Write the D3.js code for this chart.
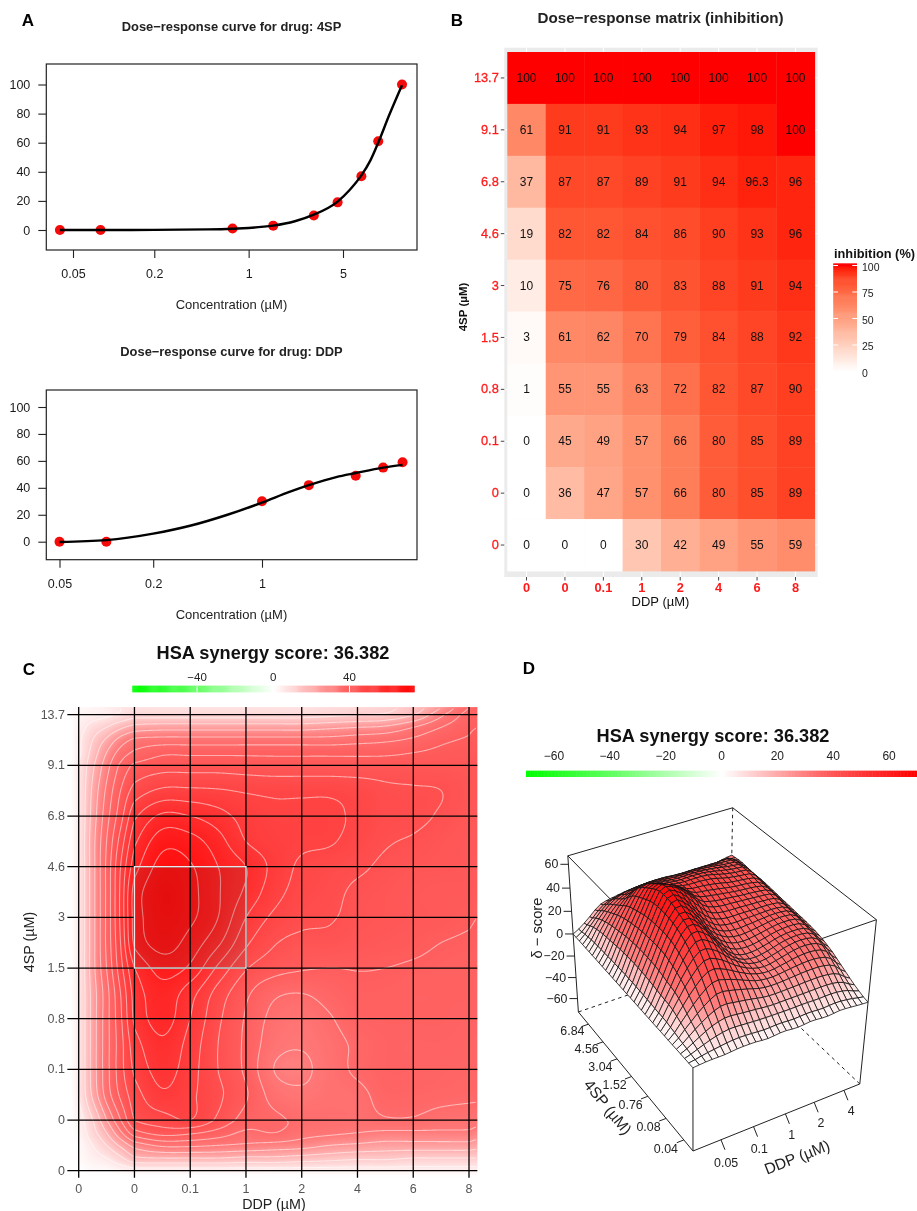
<!DOCTYPE html>
<html><head><meta charset="utf-8">
<script src="https://cdn.jsdelivr.net/npm/d3@7"></script>
<style>
html,body{margin:0;padding:0;background:#fff}
svg{display:block;font-family:"Liberation Sans",Arial,sans-serif;filter:blur(0.35px)}
</style></head><body><div id="chart"></div>
<script>
// ---------- Panel A data ----------
const conc4SP=[0.04,0.08,0.76,1.52,3.04,4.56,6.84,9.12,13.68];
const resp4SP=[0,0,1,3,10,19,37,61,100];
const curveConc4SP=[0.04,0.08,0.2,0.5,0.76,1.52,2.2,3.04,4.56,5.6,6.84,8,9.12,11,13.68];
const curveResp4SP=[0,0,0.1,0.4,0.9,3,6,10.5,19.5,27.5,37.5,48,60,79,99.5];
const concDDP=[0.05,0.1,1,2,4,6,8];
const respDDP=[0,0,30,42,49,55,59];
const curveConcDDP=[0.05,0.1,0.2,0.35,0.6,1,1.5,2,3,4,6,8];
const curveRespDDP=[-0.2,1.2,6,12,20,29,37,42,48,51,55,57];
// ---------- Panel B data ----------
const ddpLabels=["0","0","0.1","1","2","4","6","8"];
const spLabels=["13.7","9.1","6.8","4.6","3","1.5","0.8","0.1","0","0"];
const inhibition=[
[100,100,100,100,100,100,100,100],
[61,91,91,93,94,97,98,100],
[37,87,87,89,91,94,96.3,96],
[19,82,82,84,86,90,93,96],
[10,75,76,80,83,88,91,94],
[3,61,62,70,79,84,88,92],
[1,55,55,63,72,82,87,90],
[0,45,49,57,66,80,85,89],
[0,36,47,57,66,80,85,89],
[0,0,0,30,42,49,55,59]];
const inhibitionTicks=[0,25,50,75,100];
// ---------- Panel C data ----------
const synColNodes=[-0.15,0,0.25,0.5,0.75,1,1.5,2,2.5,3,3.5,4,4.5,5,5.5,6,6.5,7,7.15];
const synRowNodes=[-0.15,0,0.25,0.5,0.75,1,1.5,2,2.5,3,3.5,4,4.5,5,5.5,6,6.5,7,7.5,8,8.25,8.5,8.75,9,9.12];
const synergy=[
[0,1,2,3,5,6,6,6,6,6,6,6,7,8,9,12,20,30,33],
[0,2,3,4,6,8,8,8,8,8,8,8,9,10,11,15,24,32,34],
[0,3,7,10,14,17,18,18,18,18,18,18,19,20,21,25,30,34,35],
[0,4,10,16,22,26,27,27,27,27,27,27,27,28,29,31,34,35.5,36],
[0,4,12,20,27,31,34,34,34,34,34,34,34,34,34,35,36,36.5,37],
[0,5,14,23,31,36,38,38,38,37.5,37,37,37,37,37.5,37.5,37.5,37.5,37.5],
[0,5,16,26,35,42,46,46,45.5,44.5,44,44,44,43,41,40.5,40,38,37.5],
[0,5,17,28,38,49,56,55,52,48,46,46,46,44,41.5,41,39.5,37.5,37],
[0,5,18,30,42,54,63,62,57,50,47,46,45.5,43,40.5,39.5,38,37,37],
[0,5,18,31,45,58,67,65.5,60,55,48.5,44,42.5,41,39,38,37.5,37,36.5],
[0,5,18,31,46,62,69,66.5,60.5,54,47,43,41.5,39,38,37,36.5,36.5,36],
[0,5,18,31,46,62,68.5,66,60,50,44,41.5,40.5,38.5,37.8,37,36.5,35.5,35],
[0,5,18,31,45,61,67,63,56,46,40.5,38.5,38.5,37.5,36.7,36,35,34.5,34.5],
[0,5,18,30,43,55,62,59,49,40.5,37,35.5,35,35.2,35,34.5,34,33.5,33.5],
[0,5,17,28,40,52,58,52,43,36,31,30,32,34,34,33.5,33.5,33.5,33],
[0,5,17,28,39,51,57,50,41,34.5,28.5,27,29.5,33,33.5,33.5,33.5,33,33],
[0,5,17,28,38,48,54,48,40,34,27,25.5,28,31,33,33,33,32.5,32],
[0,5,17,28,38,46,52,47,40,34,25,24,27.5,31,33,33,32.5,32,32],
[0,5,16,27,36,43,49,46,41,35.5,28,26,27.5,28.5,32,32,31.5,31,31],
[0,3,10,20,30,40,43,45,39,33,31,29,28.5,28,29.5,29.5,28,27.5,27],
[0,2,8,15,24,33,37,36,33,29,30,27,26,25,24,24,24,24,23],
[0,1,5,10,16,22,26,26,25,24,23,22,20,19,18,18,18,18,17],
[0,1,3,5,9,14,15,15,15,14,14,13,12,11,11,10,10,10,10],
[0,0,1,1,2,3,3,3,3,3,3,3,3,3,3,3,3,3,3],
[0,0,0,0,0,0,0,0,0,0,0,0,0,0,0,0,0,0,0]];
const contourLevels=[5,10,15,20,25,30,35,40,45,50,55,60,65];
const synLegendTicks=[-40,0,40];
// ---------- Panel D data (rows run from the back edge to the front edge) ----------
const surface=[
[0,8,18,21,23,24,23,22,21,20,21,24,26],
[0,14,26,32,34,35,35,34,34,34,34,34,27],
[0,18,33,41,43,43,42,42,42,41,39,37,26],
[0,20,40,54,52,48,46,46,45,42,40,38,26],
[0,22,44,62,60,54,46,44,42,40,39,36,25],
[0,23,47,68,66,56,44,40,39,38,37,35,24],
[0,23,48,68,62,48,38,35,35,35,35,33,23],
[0,22,48,64,56,42,33,30,31,33,34,32,22],
[0,20,44,58,52,38,28,26,28,31,32,30,20],
[0,18,36,47,43,34,27,24,26,29,30,27,16],
[0,12,24,32,30,26,22,21,22,23,23,20,10],
[0,6,12,15,14,13,12,12,12,12,12,10,4],
[0,1,1,2,2,1,2,1,2,1,2,1,0]];
const zTicks=[-60,-40,-20,0,20,40,60];
const surfDDPTicks=["0.05","0.1","1","2","4"];
const surfDDPFrac=[0.16,0.35,0.54,0.715,0.90];
const surfSPTicks=["0.04","0.08","0.76","1.52","3.04","4.56","6.84"];
const surfSPFrac=[0.07,0.21,0.36,0.5,0.63,0.76,0.9];
const surfLegendTicks=[-60,-40,-20,0,20,40,60];

const W=917,H=1211,INK="#1a1a1a";
const svg=d3.select("#chart").append("svg").attr("width",W).attr("height",H);
const txt=(g,t,x,y,o={})=>g.append("text").text(t).attr("x",x).attr("y",y)
  .attr("text-anchor",o.a||"middle").attr("font-size",o.s||12).attr("font-weight",o.w||"normal")
  .attr("fill",o.c||INK).attr("dominant-baseline","central")
  .attr("transform",o.r!=null?`rotate(${o.r} ${x} ${y})`:null);
[["A",28,20],["B",457,20],["C",29,669],["D",529,668]].forEach(d=>txt(svg,d[0],d[1],d[2],{s:17,w:"bold",c:"#000"}));

// ---------- Panel A ----------
function dosePlot(o){
  const g=svg.append("g");
  const x=d3.scaleLog().domain(o.xd).range(o.xr), y=d3.scaleLinear().domain([0,100]).range(o.yr);
  txt(g,o.title,231.5,o.ty,{s:12.9,w:"bold",c:"#222"});
  g.append("rect").attr("x",46.3).attr("y",o.top).attr("width",370.7).attr("height",o.bot-o.top)
    .attr("fill","#fff").attr("stroke","#222").attr("stroke-width",1.2);
  const ax=g.append("g").attr("transform",`translate(46.3,0)`).call(d3.axisLeft(y).tickValues([0,20,40,60,80,100]).tickSize(8).tickPadding(8));
  ax.select(".domain").remove();
  const bx=g.append("g").attr("transform",`translate(0,${o.bot})`).call(d3.axisBottom(x).tickValues([0.05,0.2,1,5].filter(v=>o.ticks.includes(v))).tickFormat(d3.format("")).tickSize(8).tickPadding(11));
  bx.select(".domain").remove();
  [ax,bx].forEach(a=>{a.selectAll("text").attr("font-size",12.5).attr("font-family","inherit").attr("fill",INK);a.selectAll("line").attr("stroke","#222").attr("stroke-width",1.1)});
  g.selectAll(".pt").data(o.cx).join("circle").attr("class","pt").attr("cx",d=>x(d)).attr("cy",(d,i)=>y(o.cy[i])).attr("r",5).attr("fill","#f50a0a");
  g.append("path").attr("d",d3.line().x(d=>x(d[0])).y(d=>y(d[1])).curve(d3.curveMonotoneX)(d3.zip(o.lx,o.ly)))
    .attr("fill","none").attr("stroke","#000").attr("stroke-width",2.4);
  txt(g,"Concentration (µM)",231.5,o.cyl,{s:13,c:"#222"});
}
dosePlot({title:"Dose\u2212response curve for drug: 4SP",ty:26,top:64,bot:250,xd:[0.05,5],xr:[73,343],yr:[230,84.5],ticks:[0.05,0.2,1,5],
  cx:conc4SP,cy:resp4SP,lx:curveConc4SP,ly:curveResp4SP,cyl:304});
dosePlot({title:"Dose\u2212response curve for drug: DDP",ty:351,top:390,bot:559.7,xd:[0.05,1],xr:[59.5,262],yr:[541.7,407],ticks:[0.05,0.2,1],
  cx:concDDP,cy:respDDP,lx:curveConcDDP,ly:curveRespDDP,cyl:614});

// ---------- Panel B ----------
(function(){
  const g=svg.append("g");
  const col=d3.scaleBand().domain(d3.range(8)).range([507.3,814.7]);
  const row=d3.scaleBand().domain(d3.range(10)).range([52,571]);
  const fill=d3.scaleLinear().domain([0,100]).range(["#ffffff","#ff0000"]).interpolate(d3.interpolateLab);
  txt(g,"Dose\u2212response matrix (inhibition)",660.5,17,{s:15.2,w:"bold",c:"#222"});
  g.append("rect").attr("x",504.3).attr("y",47.7).attr("width",313.4).attr("height",529.3).attr("fill","#ebebeb");
  col.domain().forEach(i=>g.append("line").attr("x1",col(i)+col.bandwidth()/2).attr("x2",col(i)+col.bandwidth()/2).attr("y1",47.7).attr("y2",577).attr("stroke","#fff").attr("stroke-width",1));
  row.domain().forEach(i=>g.append("line").attr("y1",row(i)+row.bandwidth()/2).attr("y2",row(i)+row.bandwidth()/2).attr("x1",504.3).attr("x2",817.7).attr("stroke","#fff").attr("stroke-width",1));
  const cells=inhibition.flatMap((r,j)=>r.map((v,i)=>({v,i,j})));
  g.selectAll(".c").data(cells).join("rect").attr("class","c").attr("x",d=>col(d.i)).attr("y",d=>row(d.j))
    .attr("width",col.bandwidth()+0.4).attr("height",row.bandwidth()+0.4).attr("fill",d=>fill(d.v));
  g.selectAll(".t").data(cells).join("text").attr("class","t").text(d=>d.v)
    .attr("x",d=>col(d.i)+col.bandwidth()/2).attr("y",d=>row(d.j)+row.bandwidth()/2)
    .attr("text-anchor","middle").attr("dominant-baseline","central").attr("font-size",12).attr("fill","#111");
  const ax=g.append("g").attr("transform","translate(0,577)").call(d3.axisBottom(col).tickFormat(i=>ddpLabels[i]).tickSize(3.5).tickPadding(2));
  const ay=g.append("g").attr("transform","translate(504.3,0)").call(d3.axisLeft(row).tickFormat(i=>spLabels[i]).tickSize(3.5).tickPadding(2));
  [ax,ay].forEach(a=>{a.select(".domain").remove();a.selectAll("line").attr("stroke","#444").attr("stroke-width",1);
    a.selectAll("text").attr("font-family","inherit").attr("fill","#ff1a1a").attr("font-size",12.8)});
  ax.selectAll("text").attr("font-weight","bold");
  ay.selectAll("text").attr("stroke","#ff1a1a").attr("stroke-width",0.3);
  txt(g,"DDP (µM)",660.5,601.5,{s:13,c:"#111"});
  txt(g,"4SP (µM)",463,307,{s:11.5,w:"bold",c:"#111",r:-90});
  txt(g,"inhibition (%)",834,253,{s:12.8,w:"bold",a:"start",c:"#111"});
  const ly=d3.scaleLinear().domain([0,100]).range([371.5,265.5]);
  g.selectAll(".lg").data(d3.range(0,102,1)).join("rect").attr("class","lg").attr("x",833.3).attr("width",23.7)
    .attr("y",d=>ly(d)-1.1).attr("height",1.6).attr("fill",d=>fill(Math.min(d,100)));
  inhibitionTicks.forEach(v=>{
    if(v>0){
      g.append("line").attr("x1",833.3).attr("x2",838).attr("y1",ly(v)).attr("y2",ly(v)).attr("stroke","#fff");
      g.append("line").attr("x1",852.3).attr("x2",857).attr("y1",ly(v)).attr("y2",ly(v)).attr("stroke","#fff");}
    txt(g,String(v),862,ly(v)+1,{s:10.5,a:"start",c:"#222"});
  });
})();

// ---------- shared helpers for C and D ----------
const synColor=d3.scaleLinear().domain([-74,-40,0,40,74]).range(["#00ff00","#66ff66","#ffffff","#ff5a5a","#ff0000"]).clamp(true);
const fieldColor=d3.scaleLinear().domain([0,12,25,40,74]).range(["#ffffff","#ffc3c3","#ff7878","#ff5050","#ff0000"]).clamp(true);
const cr=(a,b,c,d,t)=>0.5*(2*b+(c-a)*t+(2*a-5*b+4*c-d)*t*t+(3*b-a-3*c+d)*t*t*t);
function sampleGrid(m,fi,fj){ // Catmull-Rom resampling of a read grid, at fractional row fi and column fj
  const n=m.length,k=m[0].length,cl=(v,h)=>Math.max(0,Math.min(h,v));
  const i0=Math.floor(fi),j0=Math.floor(fj),ti=fi-i0,tj=fj-j0,vals=[];
  for(let di=-1;di<=2;di++){const r=m[cl(i0+di,n-1)];
    vals.push(cr(r[cl(j0-1,k-1)],r[cl(j0,k-1)],r[cl(j0+1,k-1)],r[cl(j0+2,k-1)],tj));}
  return cr(vals[0],vals[1],vals[2],vals[3],ti);
}
function colorLegend(g,x,y0,h,ticks,ly,tickMarks){
  g.selectAll(null).data(d3.range(-74,74,0.5)).join("rect").attr("x",d=>x(d)).attr("y",y0).attr("width",Math.abs(x(0.5)-x(0))+0.4).attr("height",h).attr("fill",d=>synColor(d));
  ticks.forEach(v=>{txt(g,(v<0?"\u2212":"")+Math.abs(v),x(v),ly,{s:tickMarks?11.5:12,c:"#222"});
    if(tickMarks&&v!==0)g.append("line").attr("x1",x(v)).attr("x2",x(v)).attr("y1",y0).attr("y2",y0+h).attr("stroke","#fff").attr("stroke-width",1);});
}

// ---------- Panel C ----------
(function(){
  const g=svg.append("g");
  const x=d3.scaleLinear().domain([0,7]).range([78.7,469]);
  const y=d3.scaleLinear().domain([0,9]).range([714.7,1170.7]);
  const cIdx=d3.scaleLinear().domain(synColNodes).range(d3.range(synColNodes.length));
  const rIdx=d3.scaleLinear().domain(synRowNodes).range(d3.range(synRowNodes.length));
  const x0=x(-0.15),x1=x(7.15),y0=y(-0.15),y1=y(9.12);
  const w=Math.round(x1-x0),h=Math.round(y1-y0);
  const vals=new Float64Array(w*h);
  const canvas=document.createElement("canvas");canvas.width=w;canvas.height=h;
  const ctx=canvas.getContext("2d"),img=ctx.createImageData(w,h);
  for(let j=0;j<h;j++)for(let i=0;i<w;i++){
    const v=sampleGrid(synergy,rIdx(y.invert(y0+(j+.5)*(y1-y0)/h)),cIdx(x.invert(x0+(i+.5)*(x1-x0)/w)));
    vals[j*w+i]=v;const c=d3.rgb(fieldColor(v));const p=(j*w+i)*4;
    img.data[p]=c.r;img.data[p+1]=c.g;img.data[p+2]=c.b;img.data[p+3]=255;
  }
  ctx.putImageData(img,0,0);
  g.append("image").attr("x",x0).attr("y",y0).attr("width",x1-x0).attr("height",y1-y0).attr("preserveAspectRatio","none").attr("href",canvas.toDataURL());
  svg.append("defs").append("clipPath").attr("id","cclip").append("rect").attr("x",x0+1).attr("y",y0+1.5).attr("width",x1-x0-2.5).attr("height",y1-y0-2.5);
  const contours=d3.contours().size([w,h]).thresholds(contourLevels).smooth(true)(Array.from(vals));
  g.append("g").attr("clip-path","url(#cclip)").append("g").attr("transform",`translate(${x0},${y0}) scale(${(x1-x0)/w},${(y1-y0)/h})`)
    .selectAll("path").data(contours).join("path").attr("d",d3.geoPath()).attr("fill","none").attr("stroke","#fff").attr("stroke-opacity",0.5).attr("stroke-width",1.1);
  g.append("rect").attr("x",x(1)).attr("y",y(3)).attr("width",x(3)-x(1)).attr("height",y(5)-y(3)).attr("fill","#2a2a2a").attr("fill-opacity",0.12);
  d3.range(8).forEach(i=>g.append("line").attr("x1",x(i)).attr("x2",x(i)).attr("y1",y0).attr("y2",y(9)+7).attr("stroke","#000").attr("stroke-width",1.3));
  d3.range(10).forEach(j=>{
    if(j===4){
      g.append("line").attr("x1",x(-0.15)-3).attr("x2",x(1)).attr("y1",y(j)).attr("y2",y(j)).attr("stroke","#000").attr("stroke-width",1.3);
      g.append("line").attr("x1",x(3)).attr("x2",x1).attr("y1",y(j)).attr("y2",y(j)).attr("stroke","#000").attr("stroke-width",1.3);
    } else g.append("line").attr("x1",x(-0.15)-3).attr("x2",x1).attr("y1",y(j)).attr("y2",y(j)).attr("stroke","#000").attr("stroke-width",1.3);
  });
  g.append("rect").attr("x",x(1)).attr("y",y(3)).attr("width",x(3)-x(1)).attr("height",y(5)-y(3)).attr("fill","none").attr("stroke","#e8e8e8").attr("stroke-width",1.4);
  d3.range(8).forEach(i=>txt(g,ddpLabels[i],x(i),1188.5,{s:12.5,c:"#555"}));
  d3.range(10).forEach(j=>txt(g,spLabels[j],65,y(j),{s:12.5,a:"end",c:"#555"}));
  txt(g,"DDP (µM)",274,1204,{s:14.3,c:"#222"});
  txt(g,"4SP (µM)",29,942,{s:14.3,c:"#222",r:-90});
  txt(g,"HSA synergy score: 36.382",273,653,{s:18.2,w:"bold",c:"#111"});
  const lx=d3.scaleLinear().domain([-74,74]).range([132.3,414.3]);
  colorLegend(g,lx,685.7,6.6,synLegendTicks,677,true);
})();

// ---------- Panel D ----------
(function(){
  const g=svg.append("g");
  // calibration of the perspective box: [x,y,z] unit-cube corner -> page position
  const corners=[[0,0,0,692.3,1150.7],[1,0,0,861.7,1084],[0,1,0,580,1013],[1,1,0,727,959.4],[0,1,1,566.7,855],[1,1,1,735,808.3],[1,0,1,875,920]];
  const A=[],b=[];
  corners.forEach(([X,Y,Z,u,v])=>{
    A.push([X,Y,Z,1,0,0,0,0,-u*X,-u*Y,-u*Z]);b.push(u);
    A.push([0,0,0,0,X,Y,Z,1,-v*X,-v*Y,-v*Z]);b.push(v);
  });
  const N=11,M=d3.range(N).map(i=>d3.range(N+1).map(j=>d3.sum(A,(r,k)=>r[i]*(j<N?r[j]:b[k]))));
  for(let i=0;i<N;i++){
    let p=i;for(let r=i+1;r<N;r++)if(Math.abs(M[r][i])>Math.abs(M[p][i]))p=r;
    [M[i],M[p]]=[M[p],M[i]];
    for(let r=0;r<N;r++)if(r!==i){const f=M[r][i]/M[i][i];for(let c=i;c<=N;c++)M[r][c]-=f*M[i][c];}
  }
  const P=M.map((r,i)=>r[N]/r[i]);
  const proj=(X,Y,Z)=>{const w=P[8]*X+P[9]*Y+P[10]*Z+1;return [(P[0]*X+P[1]*Y+P[2]*Z+P[3])/w,(P[4]*X+P[5]*Y+P[6]*Z+P[7])/w];};
  const zs=d3.scaleLinear().domain([-73,67]).range([0,1]);
  const seg=(a,b,dash)=>{const p=proj(...a),q=proj(...b);g.append("line").attr("x1",p[0]).attr("y1",p[1]).attr("x2",q[0]).attr("y2",q[1]).attr("stroke","#222").attr("stroke-width",1).attr("stroke-dasharray",dash?"3.5,3.5":null);};
  seg([1,1,1],[1,1,0],1);seg([0,1,0],[1,1,0],1);seg([1,0,0],[1,1,0],1);
  seg([0,1,1],[1,1,1]);seg([1,1,1],[1,0,1]);seg([0,1,1],[0,1,0]);seg([1,0,1],[1,0,0]);
  seg([0,0,0],[1,0,0]);seg([0,0,0],[0,1,0]);seg([0,0,0],[0,0,zs(0)]);seg([0,1,1],[0,0,1]);seg([1,0,1],[0,0,1]);
  // surface mesh
  const nX=29,nY=33,rows=surface.length-1,cols=surface[0].length-1;
  const zAt=(X,Y)=>sampleGrid(surface,(1-Y)*rows,X*cols);
  const quads=[];
  for(let j=nY-1;j>=0;j--)for(let i=nX-1;i>=0;i--){
    const xa=i/nX,xb=(i+1)/nX,ya=j/nY,yb=(j+1)/nY;
    quads.push([[xa,ya],[xb,ya],[xb,yb],[xa,yb]].map(([X,Y])=>({X,Y,z:zAt(X,Y)})));
  }
  g.selectAll(".q").data(quads).join("path").attr("class","q")
    .attr("d",c=>"M"+c.map(p=>proj(p.X,p.Y,zs(p.z))).map(p=>p[0].toFixed(1)+","+p[1].toFixed(1)).join("L")+"Z")
    .attr("fill",c=>fieldColor(d3.mean(c,p=>p.z))).attr("stroke","#111").attr("stroke-width",0.8).attr("stroke-linejoin","round");
  zTicks.forEach(v=>{const p=proj(0,1,zs(v));
    g.append("line").attr("x1",p[0]).attr("y1",p[1]).attr("x2",p[0]-8).attr("y2",p[1]).attr("stroke","#222");
    txt(g,(v<0?"\u2212":"")+Math.abs(v),p[0]-10,p[1],{s:12.4,a:"end",c:"#222"});});
  txt(g,"\u03b4 \u2212 score",537,928,{s:14.7,c:"#222",r:-90});
  surfDDPFrac.forEach((f,i)=>{const p=proj(f,0,0),l=proj(f,-0.16,0);
    g.append("line").attr("x1",p[0]).attr("y1",p[1]).attr("x2",p[0]+4).attr("y2",p[1]+10).attr("stroke","#222");
    txt(g,surfDDPTicks[i],l[0]-17,l[1]-3,{s:12.4,c:"#222"});});
  txt(g,"DDP (µM)",797,1157,{s:15.5,c:"#222",r:-21.5});
  surfSPFrac.forEach((f,i)=>{const p=proj(0,f,0),q=proj(-0.04,f,0),l=proj(-0.13,f,0);
    g.append("line").attr("x1",p[0]).attr("y1",p[1]).attr("x2",q[0]).attr("y2",q[1]).attr("stroke","#222");
    txt(g,surfSPTicks[i],l[0]+5,l[1],{s:12.4,c:"#222"});});
  txt(g,"4SP (µM)",608,1107,{s:15.5,c:"#222",r:51});
  txt(g,"HSA synergy score: 36.382",713,736,{s:18.2,w:"bold",c:"#111"});
  const lx=d3.scaleLinear().domain([-70,70]).range([526,917]);
  g.selectAll(".slg").data(d3.range(-70,70,0.5)).join("rect").attr("class","slg").attr("x",d=>lx(d)).attr("y",770.7).attr("width",1.9).attr("height",6.3).attr("fill",d=>synColor(d*74/70));
  surfLegendTicks.forEach(v=>txt(g,(v<0?"\u2212":"")+Math.abs(v),lx(v),755.5,{s:12,c:"#222"}));
})();
</script></body></html>
